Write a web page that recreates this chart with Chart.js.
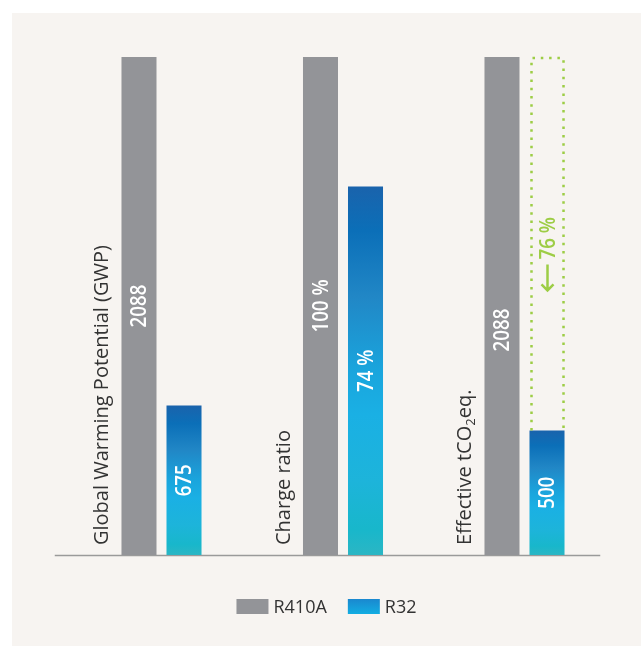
<!DOCTYPE html>
<html>
<head>
<meta charset="utf-8">
<script src="https://cdn.jsdelivr.net/npm/chart.js@4.4.1/dist/chart.umd.min.js"></script>
<style>
  html, body { margin: 0; padding: 0; background: #ffffff; }
  canvas { display: block; }
</style>
</head>
<body>
<canvas id="chart" width="641" height="646"></canvas>
<script>
(function () {
  "use strict";

  // data (bar heights are relative to R410A = 100)
  const CATEGORIES = ["Global Warming Potential (GWP)", "Charge ratio", "Effective tCO2eq."];
  const SERIES = ["R410A", "R32"];
  const R410A_VALUES = [100, 100, 100];
  const R32_VALUES = [30, 74, 25];
  const R410A_TEXT = ["2088", "100 %", "2088"];
  const R32_TEXT = ["675", "74 %", "500"];
  const REDUCTION_TEXT = "76 %";

  const PANEL = "#f7f4f1";
  const GRAY = "#939498";
  const GREEN = "#9dcd45";
  const TEXT = "#333333";
  const AXIS = "#9a9a9a";
  const BLUE_STOPS = [
    [0, "#1a63ac"], [0.12, "#0b6fb8"], [0.3, "#2187c6"], [0.5, "#1aa5dd"],
    [0.62, "#1ab0e4"], [0.8, "#1db4da"], [0.93, "#18b7cb"], [1, "#2bb6c4"]
  ];
  const LABEL_FONT = "400 20px 'Open Sans', sans-serif";
  const SUB_FONT = "400 13px 'Open Sans', sans-serif";
  const VALUE_FONT = "600 22px 'Open Sans', sans-serif";
  const LEGEND_FONT = "18px 'Open Sans', sans-serif";
  const SQUEEZE = 0.85;
  const GRAY_LABEL_DY = [0, 0, 24];

  function blueGradient(ctx, top, bottom) {
    const g = ctx.createLinearGradient(0, top, 0, bottom);
    BLUE_STOPS.forEach(function (s) { g.addColorStop(s[0], s[1]); });
    return g;
  }

  function rotatedText(ctx, text, x, y, font, color, align, baseline, squeeze) {
    ctx.save();
    ctx.translate(x, y);
    ctx.rotate(-Math.PI / 2);
    if (squeeze) ctx.scale(squeeze, 1);
    ctx.font = font;
    ctx.fillStyle = color;
    ctx.textAlign = align;
    ctx.textBaseline = baseline;
    ctx.fillText(text, 0, 0);
    ctx.restore();
  }

  // category label, with "CO2" written as CO + subscript 2
  function categoryLabel(ctx, text, x, y) {
    const parts = [];
    const idx = text.indexOf("CO2");
    if (idx >= 0) {
      parts.push({ t: text.slice(0, idx + 2), sub: false });
      parts.push({ t: "2", sub: true });
      parts.push({ t: text.slice(idx + 3), sub: false });
    } else {
      parts.push({ t: text, sub: false });
    }
    ctx.save();
    ctx.translate(x, y);
    ctx.rotate(-Math.PI / 2);
    ctx.fillStyle = TEXT;
    ctx.textAlign = "left";
    ctx.textBaseline = "alphabetic";
    let pos = 0;
    parts.forEach(function (p) {
      ctx.font = p.sub ? SUB_FONT : LABEL_FONT;
      ctx.fillText(p.t, pos, p.sub ? 4 : 0);
      pos += ctx.measureText(p.t).width;
    });
    ctx.restore();
  }

  const decor = {
    id: "decor",
    beforeDraw: function (chart) {
      const ctx = chart.ctx;
      ctx.save();
      ctx.fillStyle = "#ffffff";
      ctx.fillRect(0, 0, chart.width, chart.height);
      ctx.fillStyle = PANEL;
      ctx.fillRect(12, 13, chart.width - 12, chart.height - 13);
      ctx.restore();
    },
    beforeDatasetsDraw: function (chart) {
      const ctx = chart.ctx;
      const area = chart.chartArea;
      const base = chart.scales.y.getPixelForValue(0);
      ctx.save();
      ctx.strokeStyle = AXIS;
      ctx.lineWidth = 1.5;
      ctx.beginPath();
      ctx.moveTo(area.left - 16, base + 0.5);
      ctx.lineTo(area.right - 15, base + 0.5);
      ctx.stroke();
      ctx.restore();
    },
    afterDatasetsDraw: function (chart) {
      const ctx = chart.ctx;
      const yScale = chart.scales.y;
      const gray = chart.getDatasetMeta(0).data;
      const blue = chart.getDatasetMeta(1).data;

      // values inside bars
      gray.forEach(function (bar, i) {
        rotatedText(ctx, R410A_TEXT[i], bar.x + 1, (bar.y + bar.base) / 2 + GRAY_LABEL_DY[i],
          VALUE_FONT, "#ffffff", "center", "middle", SQUEEZE);
      });
      blue.forEach(function (bar, i) {
        rotatedText(ctx, R32_TEXT[i], bar.x + 1, (bar.y + bar.base) / 2,
          VALUE_FONT, "#ffffff", "center", "middle", SQUEEZE);
      });

      // category labels left of each group
      gray.forEach(function (bar, i) {
        categoryLabel(ctx, CATEGORIES[i], bar.x - bar.width / 2 - 13, bar.base - 10);
      });

      // dotted box showing the reduction on the last group
      const last = blue[blue.length - 1];
      const left = last.x - last.width / 2 + 2;
      const right = last.x + last.width / 2 - 1;
      const top = yScale.getPixelForValue(R410A_VALUES[R410A_VALUES.length - 1]) + 1;
      const bottom = last.y;
      ctx.save();
      ctx.strokeStyle = GREEN;
      ctx.lineWidth = 2.5;
      ctx.setLineDash([2.5, 5.8]);
      ctx.beginPath();
      ctx.moveTo(left, bottom);
      ctx.lineTo(left, top);
      ctx.lineTo(right, top);
      ctx.lineTo(right, bottom);
      ctx.stroke();
      ctx.restore();

      ctx.save();
      ctx.font = VALUE_FONT;
      const tw = ctx.measureText(REDUCTION_TEXT).width * SQUEEZE;
      ctx.restore();
      const arrowLen = 27;
      const total = tw + 5 + arrowLen;
      const cx = (left + right) / 2;
      const tip = (top + bottom) / 2 + 10 + total / 2;
      rotatedText(ctx, REDUCTION_TEXT, cx + 1, tip - arrowLen - 5, VALUE_FONT, GREEN, "left", "middle", SQUEEZE);
      ctx.save();
      ctx.strokeStyle = GREEN;
      ctx.lineWidth = 2.5;
      ctx.beginPath();
      ctx.moveTo(cx, tip - arrowLen);
      ctx.lineTo(cx, tip - 1);
      ctx.moveTo(cx - 6, tip - 7);
      ctx.lineTo(cx, tip - 1);
      ctx.lineTo(cx + 6, tip - 7);
      ctx.stroke();
      ctx.restore();

      // legend
      ctx.save();
      ctx.font = LEGEND_FONT;
      const w1 = ctx.measureText(SERIES[0]).width;
      const w2 = ctx.measureText(SERIES[1]).width;
      const full = 32 + 5 + w1 + 21 + 32 + 5 + w2;
      let lx = (12 + chart.width) / 2 - full / 2;
      const ly = 606.5;
      ctx.fillStyle = GRAY;
      ctx.fillRect(lx, ly - 7.5, 32, 15);
      ctx.fillStyle = TEXT;
      ctx.textBaseline = "middle";
      ctx.fillText(SERIES[0], lx + 37, ly + 1);
      lx += 37 + w1 + 21;
      const lg = ctx.createLinearGradient(0, ly - 7.5, 0, ly + 7.5);
      lg.addColorStop(0, "#1a88cf");
      lg.addColorStop(1, "#13ade2");
      ctx.fillStyle = lg;
      ctx.fillRect(lx, ly - 7.5, 32, 15);
      ctx.fillStyle = TEXT;
      ctx.fillText(SERIES[1], lx + 37, ly + 1);
      ctx.restore();
    }
  };

  new Chart(document.getElementById("chart"), {
    type: "bar",
    data: {
      labels: CATEGORIES,
      datasets: [
        {
          label: SERIES[0],
          data: R410A_VALUES,
          backgroundColor: GRAY,
          borderWidth: 0,
          barPercentage: 0.778,
          categoryPercentage: 0.496
        },
        {
          label: SERIES[1],
          data: R32_VALUES,
          backgroundColor: function (c) {
            const chart = c.chart;
            if (!chart.chartArea || c.type !== "data") return "#1a9ad8";
            const y = chart.scales.y;
            return blueGradient(chart.ctx, y.getPixelForValue(c.raw), y.getPixelForValue(0));
          },
          borderWidth: 0,
          barPercentage: 0.778,
          categoryPercentage: 0.496
        }
      ]
    },
    options: {
      responsive: false,
      animation: false,
      layout: { padding: { left: 70.75, right: 25.75, top: 57, bottom: 91 } },
      plugins: { legend: { display: false }, tooltip: { enabled: false } },
      scales: {
        x: { display: false },
        y: { display: false, min: 0, max: 100 }
      }
    },
    plugins: [decor]
  });
})();
</script>
</body>
</html>
